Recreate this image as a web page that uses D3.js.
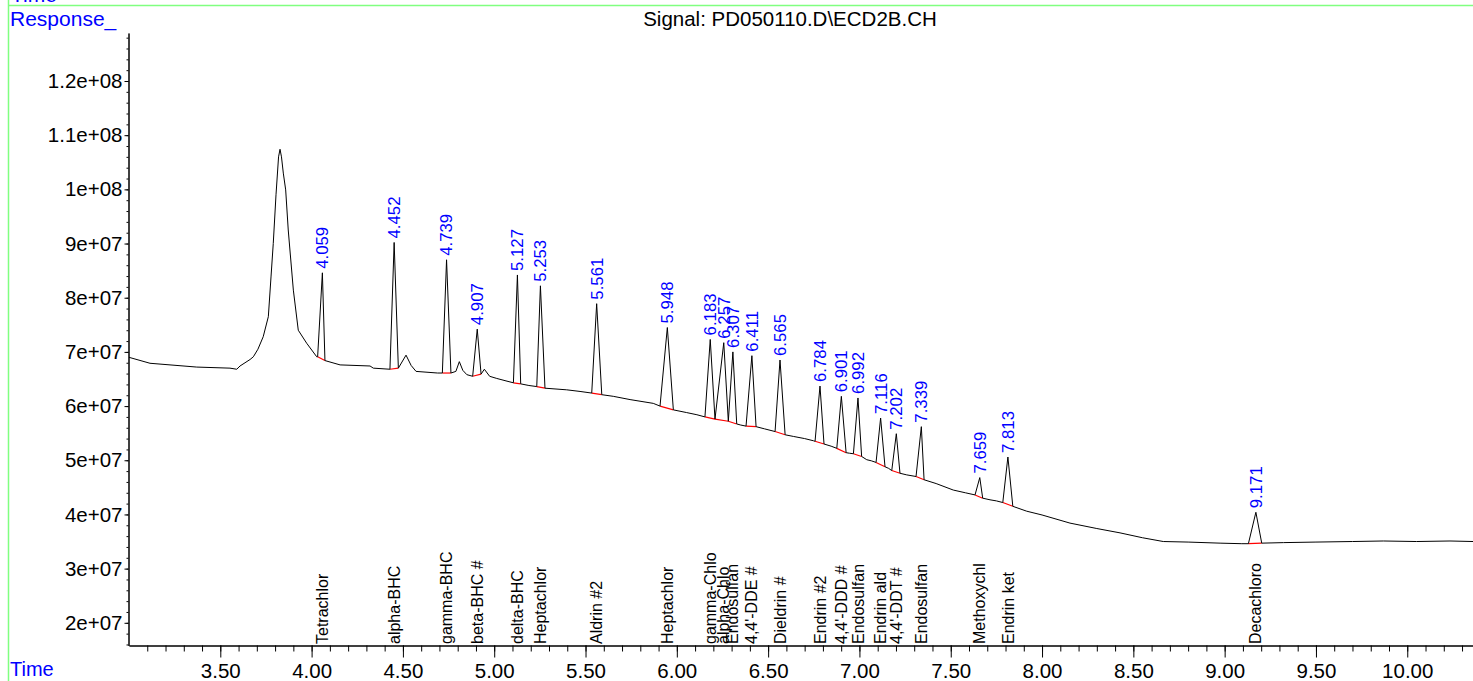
<!DOCTYPE html>
<html>
<head>
<meta charset="utf-8">
<script src="https://cdn.jsdelivr.net/npm/d3@7"></script>
<style>
body{margin:0;background:#fff;}
svg{display:block;font-family:"Liberation Sans",Arial,sans-serif;}
</style>
</head>
<body>
<div id="chart"></div>
<script>
// trace points between the labelled peaks (time min, response)
const baseT = [3.000,3.115,3.371,3.553,3.590,3.608,3.663,3.681,3.706,3.735,3.763,3.778,3.790,3.805,3.819,3.827,3.835,3.845,3.858,3.872,3.900,3.927,3.973,4.028,
	4.156,4.320,4.338,4.517,4.545,4.572,4.690,4.790,4.809,4.828,4.850,4.946,4.975,5.014,5.070,5.190,5.397,5.470,5.652,5.744,5.871,6.054,6.110,
	6.350,6.480,6.638,6.700,6.748,6.845,6.945,7.040,7.065,7.160,7.259,7.420,7.514,7.580,7.715,7.750,7.916,8.000,8.153,8.300,8.427,8.550,8.664,
	8.800,8.975,9.094,9.322,9.500,9.700,9.869,10.050,10.234,10.360];
const baseV = [6.90e7,6.79e7,6.72e7,6.70e7,6.68e7,6.74e7,6.86e7,6.91e7,7.05e7,7.28e7,7.65e7,8.40e7,9.00e7,9.90e7,1.06e8,1.074e8,1.06e8,1.03e8,9.99e7,9.25e7,8.14e7,7.40e7,7.16e7,6.91e7,
	6.76e7,6.74e7,6.70e7,6.94e7,6.75e7,6.64e7,6.61e7,6.64e7,6.82e7,6.66e7,6.58e7,6.68e7,6.55e7,6.51e7,6.46e7,6.38e7,6.30e7,6.27e7,6.18e7,6.12e7,6.05e7,5.88e7,5.84e7,
	5.65e7,5.58e7,5.44e7,5.40e7,5.36e7,5.26e7,5.13e7,5.01e7,4.99e7,4.85e7,4.73e7,4.57e7,4.45e7,4.40e7,4.27e7,4.25e7,4.06e7,3.99e7,3.84e7,3.74e7,3.66e7,3.57e7,3.50e7,
	3.49e7,3.47e7,3.46e7,3.48e7,3.49e7,3.50e7,3.51e7,3.50e7,3.51e7,3.50e7];

// integrated peaks
const peakRT = [4.059,4.452,4.739,4.907,5.127,5.253,5.561,5.948,6.183,6.257,6.307,6.411,6.565,6.784,6.901,6.992,7.116,7.202,7.339,7.659,7.813,9.171];
const peakApex = [8.46e7,9.02e7,8.70e7,7.42e7,8.42e7,8.22e7,7.89e7,7.45e7,7.23e7,7.17e7,7.00e7,6.93e7,6.85e7,6.37e7,6.18e7,6.15e7,5.78e7,5.49e7,5.62e7,4.68e7,5.06e7,4.04e7];
const peakStartT = [4.033,4.429,4.716,4.882,5.105,5.233,5.534,5.908,6.154,6.209,6.282,6.379,6.538,6.757,6.876,6.967,7.091,7.177,7.310,7.633,7.785,9.130];
const peakStartV = [6.91e7,6.68e7,6.61e7,6.55e7,6.43e7,6.36e7,6.24e7,6.00e7,5.80e7,5.76e7,5.72e7,5.63e7,5.53e7,5.35e7,5.22e7,5.12e7,4.96e7,4.81e7,4.70e7,4.36e7,4.22e7,3.46e7];
const peakEndT = [4.073,4.475,4.763,4.928,5.145,5.278,5.589,5.981,6.209,6.282,6.328,6.434,6.593,6.806,6.927,7.012,7.140,7.222,7.354,7.675,7.840,9.203];
const peakEndV = [6.84e7,6.70e7,6.61e7,6.59e7,6.41e7,6.33e7,6.21e7,5.93e7,5.76e7,5.72e7,5.67e7,5.62e7,5.47e7,5.30e7,5.14e7,5.07e7,4.88e7,4.76e7,4.64e7,4.30e7,4.15e7,3.47e7];
const peakName = ["Tetrachlor","alpha-BHC","gamma-BHC","beta-BHC #","delta-BHC","Heptachlor","Aldrin #2","Heptachlor","gamma-Chlo","alpha-Chlo","Endosulfan",
	"4,4'-DDE #","Dieldrin #","Endrin #2","4,4'-DDD #","Endosulfan","Endrin ald","4,4'-DDT #","Endosulfan","Methoxychl","Endrin ket","Decachloro"];

const xTicks = [3.5,4.0,4.5,5.0,5.5,6.0,6.5,7.0,7.5,8.0,8.5,9.0,9.5,10.0];
const xTickLabels = ["3.50","4.00","4.50","5.00","5.50","6.00","6.50","7.00","7.50","8.00","8.50","9.00","9.50","10.00"];
const yTicks = [2e7,3e7,4e7,5e7,6e7,7e7,8e7,9e7,1e8,1.1e8,1.2e8];
const yTickLabels = ["2e+07","3e+07","4e+07","5e+07","6e+07","7e+07","8e+07","9e+07","1e+08","1.1e+08","1.2e+08"];

const W = 1473, H = 681;
const blue = '#0000ff';

const svg = d3.select('#chart').append('svg')
	.attr('width', W).attr('height', H);

const x = d3.scaleLinear().domain([3.0, 10.36]).range([129, 1473]);
const y = d3.scaleLinear().domain([1.581e7, 1.2886e8]).range([645.5, 33]);

// frame lines
svg.append('line').attr('x1', 8.5).attr('x2', W).attr('y1', 5.5).attr('y2', 5.5)
	.attr('stroke', '#80ff80').attr('stroke-width', 1.5);
svg.append('line').attr('x1', 8.5).attr('x2', 8.5).attr('y1', 0).attr('y2', H)
	.attr('stroke', '#80ff80').attr('stroke-width', 1.5);

// the top "Time" is clipped by the page edge, as in the original printout
svg.append('text').attr('x', 11).attr('y', 2).attr('fill', blue).attr('font-size', 21).text('Time');
svg.append('text').attr('x', 10).attr('y', 26).attr('fill', blue).attr('font-size', 21).text('Response_');
svg.append('text').attr('x', 10).attr('y', 676).attr('fill', blue).attr('font-size', 20).text('Time');
svg.append('text').attr('x', 790).attr('y', 26).attr('text-anchor', 'middle').attr('font-size', 20.5)
	.text('Signal: PD050110.D\\ECD2B.CH');

// axes
const styleAxis = g => {
	g.attr('font-family', null).attr('font-size', 20.5);
	g.select('.domain').attr('stroke', '#000');
	g.selectAll('.tick line').attr('stroke', '#000');
	g.selectAll('.tick text').attr('fill', '#000');
};

svg.append('g').attr('transform', 'translate(0,645.5)')
	.call(d3.axisBottom(x).tickValues(d3.range(3.1, 10.36, 0.1)).tickSize(6).tickSizeOuter(0).tickFormat(''))
	.call(styleAxis);
svg.append('g').attr('transform', 'translate(0,645.5)')
	.call(d3.axisBottom(x).tickValues(xTicks).tickSize(12).tickSizeOuter(0).tickPadding(5.5)
		.tickFormat((d, i) => xTickLabels[i]))
	.call(styleAxis);

svg.append('g').attr('transform', 'translate(128.5,0)')
	.call(d3.axisLeft(y).tickValues(d3.range(1.6e7, 1.29e8, 2e6)).tickSize(2).tickSizeOuter(0).tickFormat(''))
	.call(styleAxis);
svg.append('g').attr('transform', 'translate(128.5,0)')
	.call(d3.axisLeft(y).tickValues(yTicks).tickSize(4).tickSizeOuter(0).tickPadding(2)
		.tickFormat((d, i) => yTickLabels[i]))
	.call(styleAxis);

// build trace from baseline points and peak points
const trace = [];
baseT.forEach((t, i) => trace.push([t, baseV[i]]));
peakRT.forEach((t, i) => {
	trace.push([peakStartT[i], peakStartV[i]]);
	trace.push([t, peakApex[i]]);
	trace.push([peakEndT[i], peakEndV[i]]);
});
trace.sort((a, b) => a[0] - b[0]);

const line = d3.line().x(d => x(d[0])).y(d => y(d[1]));

// red integration baselines
svg.append('g').selectAll('line')
	.data(peakRT)
	.join('line')
	.attr('x1', (d, i) => x(peakStartT[i]))
	.attr('y1', (d, i) => y(peakStartV[i]))
	.attr('x2', (d, i) => x(peakEndT[i]))
	.attr('y2', (d, i) => y(peakEndV[i]))
	.attr('stroke', '#ff0000')
	.attr('stroke-width', 1.2);

svg.append('path')
	.datum(trace)
	.attr('d', line)
	.attr('fill', 'none')
	.attr('stroke', '#000')
	.attr('stroke-width', 1);

// retention time labels
svg.append('g').selectAll('text')
	.data(peakRT)
	.join('text')
	.attr('transform', (d, i) => `translate(${x(d)},${y(peakApex[i]) - 4}) rotate(-90)`)
	.attr('dy', '0.35em')
	.attr('font-size', 16.8)
	.attr('fill', blue)
	.text(d => d3.format('.3f')(d));

// compound names along the bottom
svg.append('g').selectAll('text')
	.data(peakRT)
	.join('text')
	.attr('transform', d => `translate(${x(d)},644) rotate(-90)`)
	.attr('dy', '0.35em')
	.attr('font-size', 16)
	.attr('fill', '#000')
	.text((d, i) => peakName[i]);
</script>
</body>
</html>
